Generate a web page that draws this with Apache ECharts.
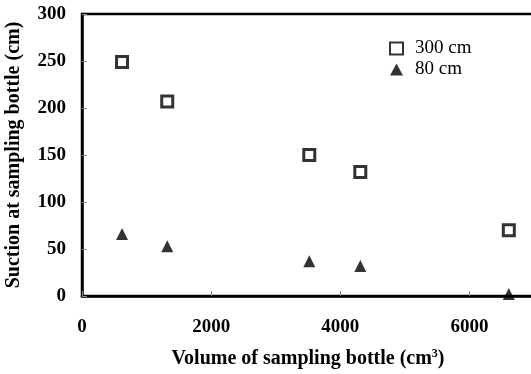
<!DOCTYPE html>
<html><head><meta charset="utf-8">
<script src="https://cdn.jsdelivr.net/npm/echarts@6/dist/echarts.min.js"></script>
<style>html,body{margin:0;padding:0;background:#fff}#c{width:531px;height:374px}</style>
</head><body><div id="c"></div>
<script>
const xTicks = [0, 2000, 4000, 6000];
const yTicks = [0, 50, 100, 150, 200, 250, 300];
const volume300 = [620, 1320, 3520, 4310, 6610];
const suction300 = [249, 207, 150, 132, 70];
const volume80 = [620, 1320, 3520, 4310, 6610];
const suction80 = [66, 53, 37, 32, 2];
const seriesNames = ['300 cm', '80 cm'];

const font = 'Liberation Serif, Times New Roman, serif';
const chart = echarts.init(document.getElementById('c'));
chart.setOption({
  animation: false,
  backgroundColor: '#fff',
  grid: {left: 82, top: 14, width: 452, height: 282, show: true, borderColor: '#000', borderWidth: 2.5,
         backgroundColor: 'transparent', containLabel: false, outerBoundsMode: 'none'},
  legend: {
    orient: 'vertical', left: 384, top: 34, itemWidth: 13, itemHeight: 12, itemGap: 2,
    textStyle: {fontFamily: font, fontSize: 19, color: '#000', padding: [0, 0, 0, 7]},
    data: seriesNames
  },
  xAxis: {
    type: 'value', min: 0, max: 7000, interval: 2000,
    axisLine: {show: true, lineStyle: {color: '#000', width: 2.5}},
    axisTick: {show: true, inside: true, length: 5, lineStyle: {color: '#888', width: 1}},
    splitLine: {show: false},
    axisLabel: {fontFamily: font, fontSize: 19, fontWeight: 'bold', color: '#000', margin: 22, showMaxLabel: false,
                formatter: v => String(v)},
    name: 'Volume of sampling bottle (cm{sup|3})', nameLocation: 'middle', nameGap: 52,
    nameTextStyle: {fontFamily: font, fontSize: 20, fontWeight: 'bold', color: '#000',
      rich: {sup: {fontFamily: font, fontSize: 12, fontWeight: 'bold', color: '#000', verticalAlign: 'top', padding: [0, 0, 9, 0]}}}
  },
  yAxis: {
    type: 'value', min: 0, max: 300, interval: 50,
    axisLine: {show: true, lineStyle: {color: '#000', width: 2.5}},
    axisTick: {show: true, inside: true, length: 5, lineStyle: {color: '#888', width: 1}},
    splitLine: {show: false},
    axisLabel: {fontFamily: font, fontSize: 19, fontWeight: 'bold', color: '#000', margin: 16,
                formatter: v => String(v)},
    name: 'Suction at sampling bottle (cm)', nameLocation: 'middle', nameGap: 58, nameRotate: 90,
    nameTextStyle: {fontFamily: font, fontSize: 20, fontWeight: 'bold', color: '#000'}
  },
  series: [
    {name: seriesNames[0], type: 'scatter', symbol: 'rect', symbolSize: 11,
     itemStyle: {color: '#fff', borderColor: '#000', borderWidth: 3},
     data: volume300.map((v, i) => [v, suction300[i]])},
    {name: seriesNames[1], type: 'scatter', symbol: 'triangle', symbolSize: 12,
     itemStyle: {color: '#000'},
     data: volume80.map((v, i) => [v, suction80[i]])}
  ]
});
</script></body></html>
